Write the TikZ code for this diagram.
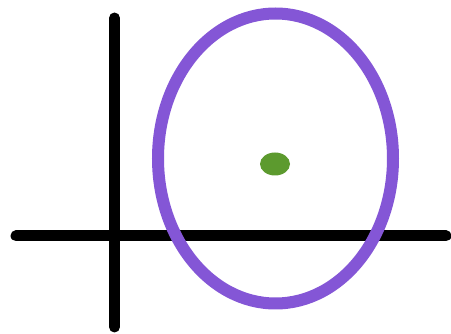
\documentclass[tikz,border=0pt]{standalone}
\usepackage{xcolor}
\usepackage{tikz}

\definecolor{ringpurple}{RGB}{132,86,214}
\definecolor{dotgreen}{RGB}{92,154,46}

\begin{document}
\begin{tikzpicture}[
    x=1pt, y=-1pt,
    axis/.style={draw=black, line width=11pt, line cap=round},
    ring/.style={draw=ringpurple, line width=12pt},
    spot/.style={fill=dotgreen}
  ]
    \useasboundingbox (0,0) rectangle (451,334);
    \fill[white] (0,0) rectangle (451,334);

    \draw[axis] (114.5,18) -- (114.5,327);
    \draw[axis] (16,236) -- (446,236);
    \draw[ring] (275.5,158.5) ellipse [x radius=117.5, y radius=145];
    \fill[spot] (275,164) ellipse [x radius=15, y radius=11.5];
  \end{tikzpicture}
\end{document}
